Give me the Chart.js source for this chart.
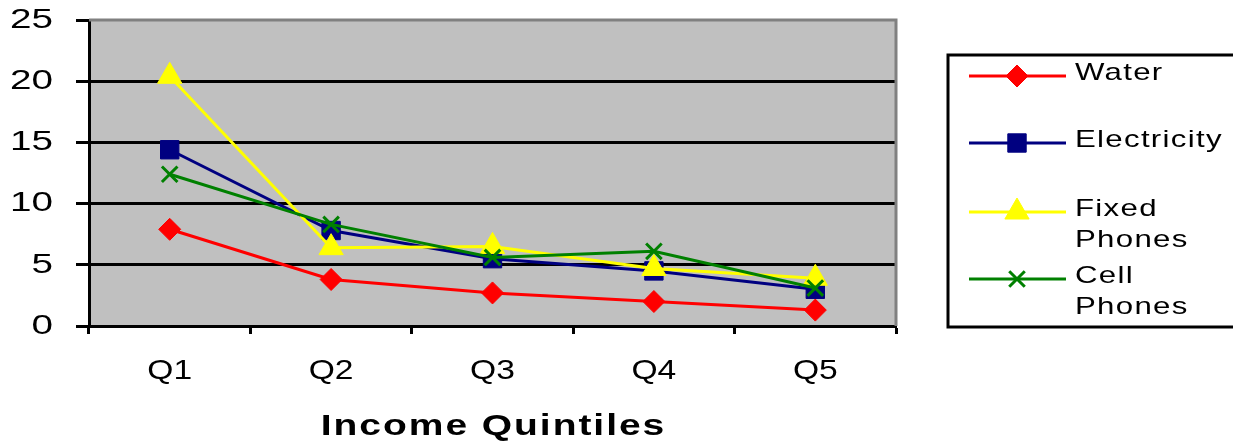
<!DOCTYPE html>
<html>
<head>
<meta charset="utf-8">
<script src="https://cdn.jsdelivr.net/npm/chart.js@4/dist/chart.umd.min.js"></script>
<style>
  html, body { margin: 0; padding: 0; background: #fff; }
  #wrap { width: 1233px; height: 442px; }
</style>
</head>
<body>
<div id="wrap"><canvas id="chart" width="1233" height="442"></canvas></div>
<script>
const quintiles = ['Q1', 'Q2', 'Q3', 'Q4', 'Q5'];
const water = [7.9, 3.8, 2.7, 2.0, 1.3];
const electricity = [14.4, 7.8, 5.5, 4.5, 3.0];
const fixedPhones = [20.4, 6.4, 6.5, 4.7, 3.9];
const cellPhones = [12.4, 8.3, 5.6, 6.1, 3.1];
const yTicks = [0, 5, 10, 15, 20, 25];
const xTitle = 'Income Quintiles';
const legendNames = [['Water'], ['Electricity'], ['Fixed', 'Phones'], ['Cell', 'Phones']];

const FONT = '"Liberation Sans", Arial, sans-serif';

// text in the original is stretched sideways
function wideText(ctx, text, x, y, sx) {
    ctx.save();
    ctx.translate(x, y);
    ctx.scale(sx, 1);
    CanvasRenderingContext2D.prototype.fillText.call(ctx, text, 0, 0);
    ctx.restore();
}

function stretchLabels(sx) {
    return function (scale) {
        if (scale._stretched) return;
        const orig = scale.drawLabels.bind(scale);
        scale.drawLabels = function (area) {
            const ctx = scale.ctx;
            ctx.fillText = (t, x, y) => wideText(ctx, t, x, y, sx);
            orig(area);
            delete ctx.fillText;
        };
        scale._stretched = true;
    };
}

// gray plot background + gray top/right border
const plotBg = {
    id: 'plotBg',
    beforeDraw(chart) {
        const { ctx, chartArea: a } = chart;
        ctx.save();
        ctx.fillStyle = '#C0C0C0';
        ctx.fillRect(a.left, a.top, a.right - a.left, a.bottom - a.top);
        ctx.restore();
    },
    beforeDatasetsDraw(chart) {
        const { ctx, chartArea: a } = chart;
        ctx.save();
        ctx.strokeStyle = '#808080';
        ctx.lineWidth = 3;
        ctx.beginPath();
        ctx.moveTo(a.left, a.top);
        ctx.lineTo(a.right, a.top);
        ctx.lineTo(a.right, a.bottom);
        ctx.stroke();
        ctx.restore();
    }
};

// axis title and boxed legend on the right
const extras = {
    id: 'extras',
    afterDraw(chart) {
        const { ctx, chartArea: a } = chart;
        ctx.save();
        ctx.fillStyle = '#000';
        ctx.textAlign = 'center';
        ctx.textBaseline = 'middle';
        ctx.letterSpacing = '1.5px';
        ctx.font = 'bold 30px ' + FONT;
        wideText(ctx, xTitle, (a.left + a.right) / 2 + 1, 427, 1.3);

        ctx.letterSpacing = '0px';
        ctx.lineWidth = 3;
        ctx.strokeStyle = '#000';
        ctx.strokeRect(948, 55, 320, 272);

        const rows = [76, 143, 212, 279];
        ctx.font = '24px ' + FONT;
        ctx.letterSpacing = '1px';
        ctx.textAlign = 'left';
        chart.data.datasets.forEach((ds, i) => {
            const y = rows[i];
            ctx.strokeStyle = ds.borderColor;
            ctx.lineWidth = ds.borderWidth;
            ctx.beginPath();
            ctx.moveTo(969, y);
            ctx.lineTo(1066, y);
            ctx.stroke();
            ctx.fillStyle = ds.pointBackgroundColor;
            ctx.strokeStyle = ds.pointBorderColor;
            ctx.lineWidth = ds.pointBorderWidth;
            Chart.helpers.drawPoint(ctx, {
                pointStyle: ds.pointStyle, radius: ds.pointRadius,
                rotation: 0, borderWidth: ds.pointBorderWidth
            }, 1017, y);
            ctx.fillStyle = '#000';
            legendNames[i].forEach((t, k) => wideText(ctx, t, 1075, y - 3 + k * 31, 1.3));
        });
        ctx.restore();
    }
};

function series(label, data, color, style, radius, bw, order) {
    return {
        label, data, order,
        borderColor: color, borderWidth: 3,
        pointStyle: style, pointRadius: radius, pointHoverRadius: radius,
        pointBackgroundColor: color, pointBorderColor: color, pointBorderWidth: bw,
        tension: 0, fill: false
    };
}

new Chart(document.getElementById('chart'), {
    type: 'line',
    data: {
        labels: quintiles,
        datasets: [
            series('Water', water, '#FF0000', 'rectRot', 11, 1, 4),
            series('Electricity', electricity, '#000080', 'rect', 13, 1, 3),
            series('Fixed Phones', fixedPhones, '#FFFF00', 'triangle', 14, 1, 2),
            series('Cell Phones', cellPhones, '#008000', 'crossRot', 11, 3, 1)
        ]
    },
    options: {
        responsive: false,
        animation: false,
        layout: { padding: { top: 20, right: 337, left: 0, bottom: 0 } },
        plugins: { legend: { display: false }, tooltip: { enabled: false } },
        scales: {
            x: {
                offset: true,
                afterFit(scale) { scale.height = 116; scale.paddingLeft = 0; scale.paddingRight = 0; },
                afterUpdate: stretchLabels(1.2),
                grid: {
                    offset: true, drawOnChartArea: false, drawTicks: true,
                    tickLength: 8, tickWidth: 3, tickColor: '#000'
                },
                border: { display: true, color: '#000', width: 3 },
                ticks: { color: '#000', padding: 20, font: { family: FONT, size: 28 } }
            },
            y: {
                min: 0, max: 25,
                afterFit(scale) { scale.width = 89; scale.paddingTop = 0; scale.paddingBottom = 0; },
                afterUpdate: stretchLabels(1.38),
                afterBuildTicks(scale) { scale.ticks = yTicks.map(v => ({ value: v })); },
                grid: {
                    color: ctx => ctx.tick && ctx.tick.value === 25 ? 'rgba(0,0,0,0)' : '#000',
                    lineWidth: 3, tickLength: 13, tickColor: '#000', tickWidth: 3
                },
                border: { display: true, color: '#000', width: 3 },
                ticks: { color: '#000', padding: 23, font: { family: FONT, size: 28 } }
            }
        }
    },
    plugins: [plotBg, extras]
});
</script>
</body>
</html>
